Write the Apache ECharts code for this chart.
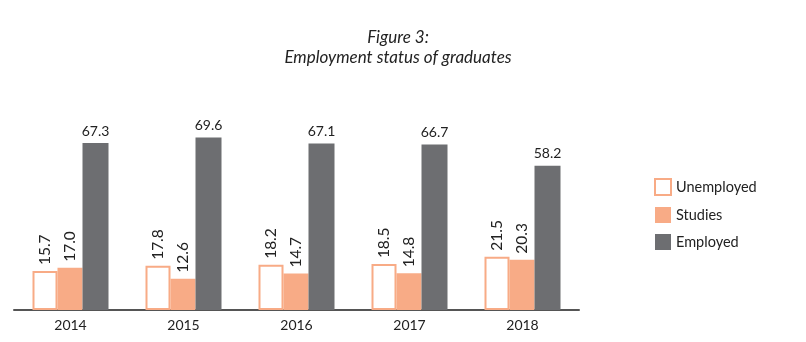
<!DOCTYPE html>
<html>
<head>
<meta charset="utf-8">
<script src="https://cdn.jsdelivr.net/npm/echarts@6/dist/echarts.min.js"></script>
<style>
  html, body { margin: 0; padding: 0; background: #fff; }
  #chart { width: 806px; height: 342px; }
</style>
</head>
<body>
<div id="chart"></div>
<script>
const years = ['2014', '2015', '2016', '2017', '2018'];
const unemployed = [15.7, 17.8, 18.2, 18.5, 21.5];
const studies = [17.0, 12.6, 14.7, 14.8, 20.3];
const employed = [67.3, 69.6, 67.1, 66.7, 58.2];

const FONT = 'Lato, "Noto Sans", sans-serif';
const ORANGE = '#f8ab86';
const GREY = '#6d6e71';

const chart = echarts.init(document.getElementById('chart'));

// rotated value labels for the two small series
const vLabel = {
  show: true,
  position: 'top',
  rotate: 90,
  align: 'left',
  verticalAlign: 'middle',
  distance: 6,
  fontFamily: FONT,
  fontSize: 15.5,
  color: '#222',
  formatter: p => p.value.toFixed(1)
};

chart.setOption({
  animation: false,
  title: {
    text: 'Figure 3:\nEmployment status of graduates',
    left: 393,
    textAlign: 'center',
    top: 23,
    textStyle: {
      fontFamily: FONT,
      fontStyle: 'italic',
      fontWeight: 'normal',
      fontSize: 17,
      lineHeight: 20,
      color: '#222'
    }
  },
  legend: {
    orient: 'vertical',
    left: 649,
    top: 173,
    itemWidth: 16,
    itemHeight: 16,
    itemGap: 11,
    textStyle: { fontFamily: FONT, fontSize: 14.5, color: '#222' },
    data: [
      { name: 'Unemployed', icon: 'rect', itemStyle: { color: '#fff', borderColor: ORANGE, borderWidth: 2 } },
      { name: 'Studies', icon: 'rect' },
      { name: 'Employed', icon: 'rect' }
    ]
  },
  grid: { left: 14, width: 565, top: 62, bottom: 32 },
  xAxis: {
    type: 'category',
    data: years,
    axisLine: { lineStyle: { color: '#555', width: 2 } },
    axisTick: { show: false },
    axisLabel: { fontFamily: FONT, fontSize: 14, color: '#222', margin: 8 }
  },
  yAxis: {
    type: 'value',
    min: 0,
    max: 100,
    show: false,
    splitLine: { show: false }
  },
  series: [
    {
      name: 'Unemployed',
      type: 'bar',
      data: unemployed,
      barWidth: 25,
      barGap: '0%',
      itemStyle: { color: '#fff', borderColor: ORANGE, borderWidth: 2 },
      label: vLabel
    },
    {
      name: 'Studies',
      type: 'bar',
      data: studies,
      barWidth: 25,
      itemStyle: { color: ORANGE },
      label: vLabel
    },
    {
      name: 'Employed',
      type: 'bar',
      data: employed,
      barWidth: 26,
      itemStyle: { color: GREY },
      label: {
        show: true,
        position: 'top',
        distance: 5,
        fontFamily: FONT,
        fontSize: 14,
        color: '#222',
        formatter: p => p.value.toFixed(1)
      }
    }
  ]
});
</script>
</body>
</html>
